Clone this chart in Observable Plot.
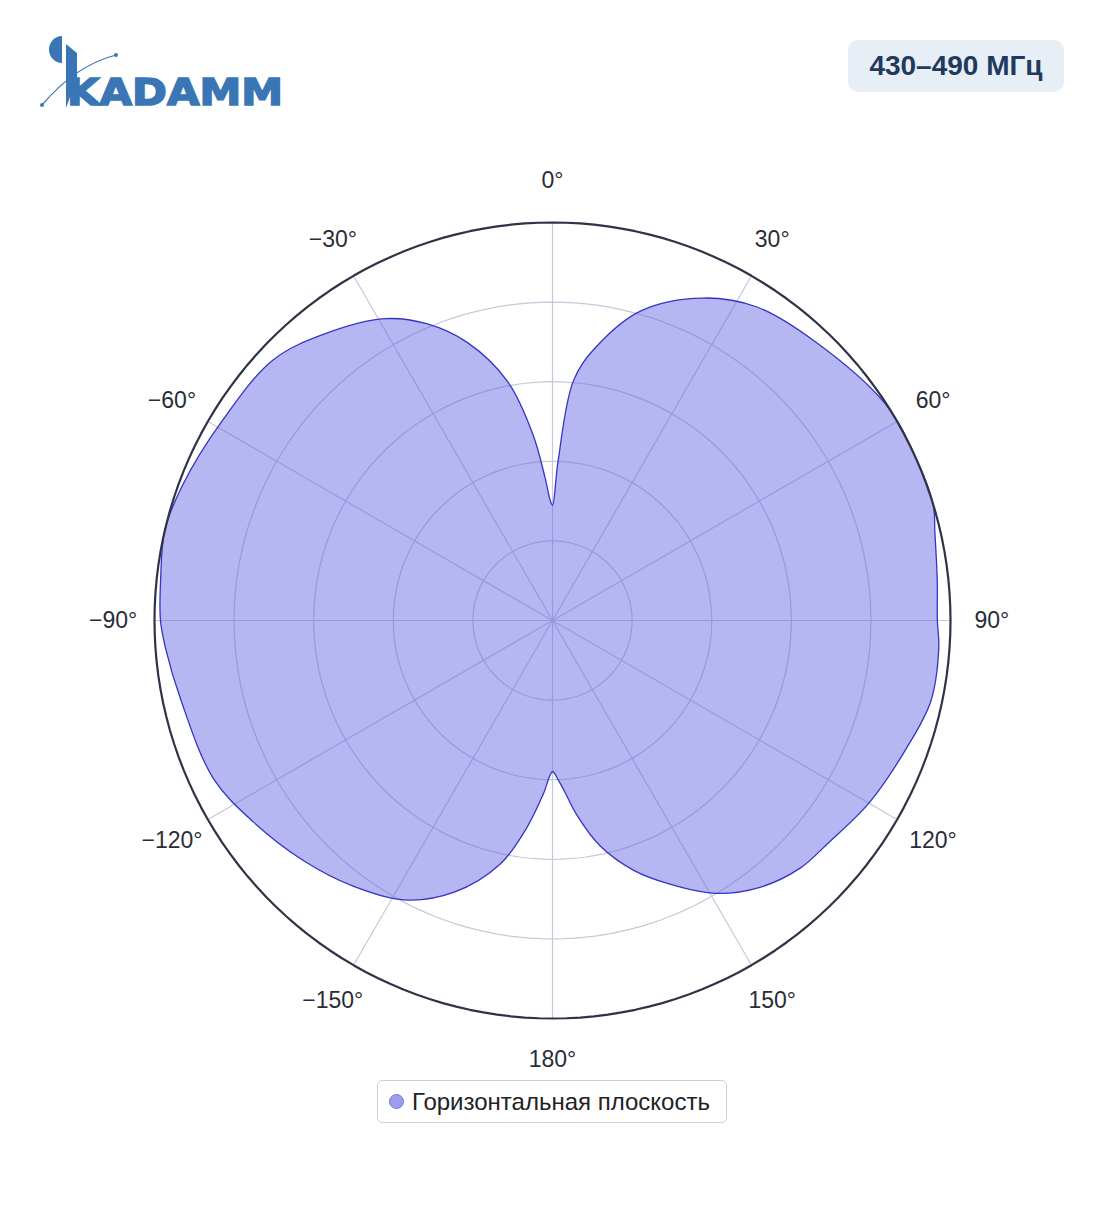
<!DOCTYPE html>
<html>
<head>
<meta charset="utf-8">
<script src="https://cdn.jsdelivr.net/npm/d3@7"></script>
<script src="https://cdn.jsdelivr.net/npm/@observablehq/plot@0.6"></script>
<style>
  html, body { margin: 0; padding: 0; background: #fff; }
  body { width: 1104px; height: 1211px; position: relative; font-family: "Liberation Sans", Arial, sans-serif; overflow: hidden; }
  #logo { position: absolute; left: 36px; top: 30px; }
  #badge { position: absolute; left: 848px; top: 40px; width: 216px; height: 52px; border-radius: 10px; background: #e8eef6;
           color: #1f3a5f; font: bold 28px "Liberation Sans", Arial, sans-serif; display: flex; align-items: center; justify-content: center; }
  #chart { position: absolute; left: 0; top: 160px; }
  #legend { position: absolute; left: 377px; top: 1080px; width: 350px; height: 43px; border: 1px solid #cfcfd4; border-radius: 5px;
            box-sizing: border-box; display: flex; align-items: center; font-size: 24px; color: #222; }
  #legend .sw { width: 15px; height: 15px; border-radius: 50%; background: #9c9cf0; border: 1px solid #7a7ad8; box-sizing: border-box; margin: 0 8px 0 11px; }
</style>
</head>
<body>
<svg id="logo" width="260" height="85" viewBox="0 0 260 85">
  <path d="M26 6 A13 13.5 0 0 0 26 33 Z" fill="#3a76b5"/>
  <path d="M30 14 L41 23 L41 48 L30 78 Z" fill="#3a76b5"/>
  <path d="M6 75 Q40 35 80 25" fill="none" stroke="#3a76b5" stroke-width="1.2"/>
  <circle cx="6" cy="75" r="2" fill="#3a76b5"/>
  <circle cx="80" cy="25" r="2" fill="#3a76b5"/>
  <text x="31" y="75" font-family="DejaVu Sans" font-weight="bold" font-size="37" fill="#3a76b5" stroke="#3a76b5" stroke-width="1.6" textLength="216" lengthAdjust="spacingAndGlyphs">KADAMM</text>
</svg>
<div id="badge">430–490 МГц</div>
<div id="chart"></div>
<div id="legend"><span class="sw"></span><span>Горизонтальная плоскость</span></div>
<script>
// Pattern (degrees clockwise from 0°, normalized gain)
const angles = [-180, -177, -173, -168, -160, -152, -143, -134, -124, -115, -102, -94, -90, -84, -77, -70, -59, -47, -38.5, -29, -23, -17, -10.6, -6, -3, -1, 0, 2, 5, 9, 16, 25, 33, 43, 57, 65, 73, 77, 84, 90, 94, 102, 110, 120, 129, 135, 142, 149, 156, 162, 168, 173, 176, 178];
const gains  = [0.38, 0.436, 0.523, 0.624, 0.727, 0.795, 0.835, 0.869, 0.906, 0.94, 0.955, 0.975, 0.985, 0.99, 1.0, 0.99, 0.97, 0.96, 0.92, 0.867, 0.81, 0.73, 0.61, 0.47, 0.36, 0.30, 0.29, 0.40, 0.605, 0.695, 0.81, 0.894, 0.94, 0.962, 0.998, 1.0, 1.0, 0.986, 0.972, 0.967, 0.973, 0.972, 0.945, 0.918, 0.89, 0.88, 0.85, 0.80, 0.725, 0.66, 0.58, 0.49, 0.43, 0.40];
const ringValues = [0.2, 0.4, 0.6, 0.8];
const outerRing = [1];
const spokeAngles = [0, 30, 60, 90, 120, 150, 180, 210, 240, 270, 300, 330];
const angleLabels = ["0°", "30°", "60°", "90°", "120°", "150°", "180°", "−150°", "−120°", "−90°", "−60°", "−30°"];
const seriesName = "Горизонтальная плоскость";

const rad = d => d * Math.PI / 180;
const polar = (a, r) => ({x: r * Math.sin(rad(a)), y: r * Math.cos(rad(a))});

const pattern = angles.map((a, i) => polar(a, gains[i]));
const circlePts = rs => rs.flatMap(r => d3.range(0, 361, 2).map(a => ({...polar(a, r), ring: r})));
const spokes = spokeAngles.map(a => ({x1: 0, y1: 0, x2: polar(a, 1).x, y2: polar(a, 1).y}));
const labels = spokeAngles.map((a, i) => ({...polar(a, 1.104), label: angleLabels[i]}));

const W = 1104, H = 920, R = 398;
const chart = Plot.plot({
  width: W, height: H, margin: 0,
  x: {domain: [-(W / 2) / R, (W / 2) / R], axis: null},
  y: {domain: [-(H / 2) / R, (H / 2) / R], axis: null},
  style: {fontFamily: "Liberation Sans, Arial, sans-serif"},
  marks: [
    Plot.line(circlePts(ringValues), {x: "x", y: "y", z: "ring", stroke: "#c5c8da", strokeWidth: 1.2}),
    Plot.link(spokes, {x1: "x1", y1: "y1", x2: "x2", y2: "y2", stroke: "#c5c8da", strokeWidth: 1.2}),
    Plot.line(pattern, {x: "x", y: "y", curve: "catmull-rom-closed", fill: "#6464e6", fillOpacity: 0.47, stroke: "#3434c4", strokeWidth: 1.3}),
    Plot.line(circlePts(outerRing), {x: "x", y: "y", z: "ring", stroke: "#2e3346", strokeWidth: 2.2}),
    Plot.text(labels, {x: "x", y: "y", text: "label", fontSize: 23, fill: "#2a2d36", textAnchor: "middle", lineAnchor: "middle"})
  ]
});
document.getElementById("chart").appendChild(chart);
</script>
</body>
</html>
